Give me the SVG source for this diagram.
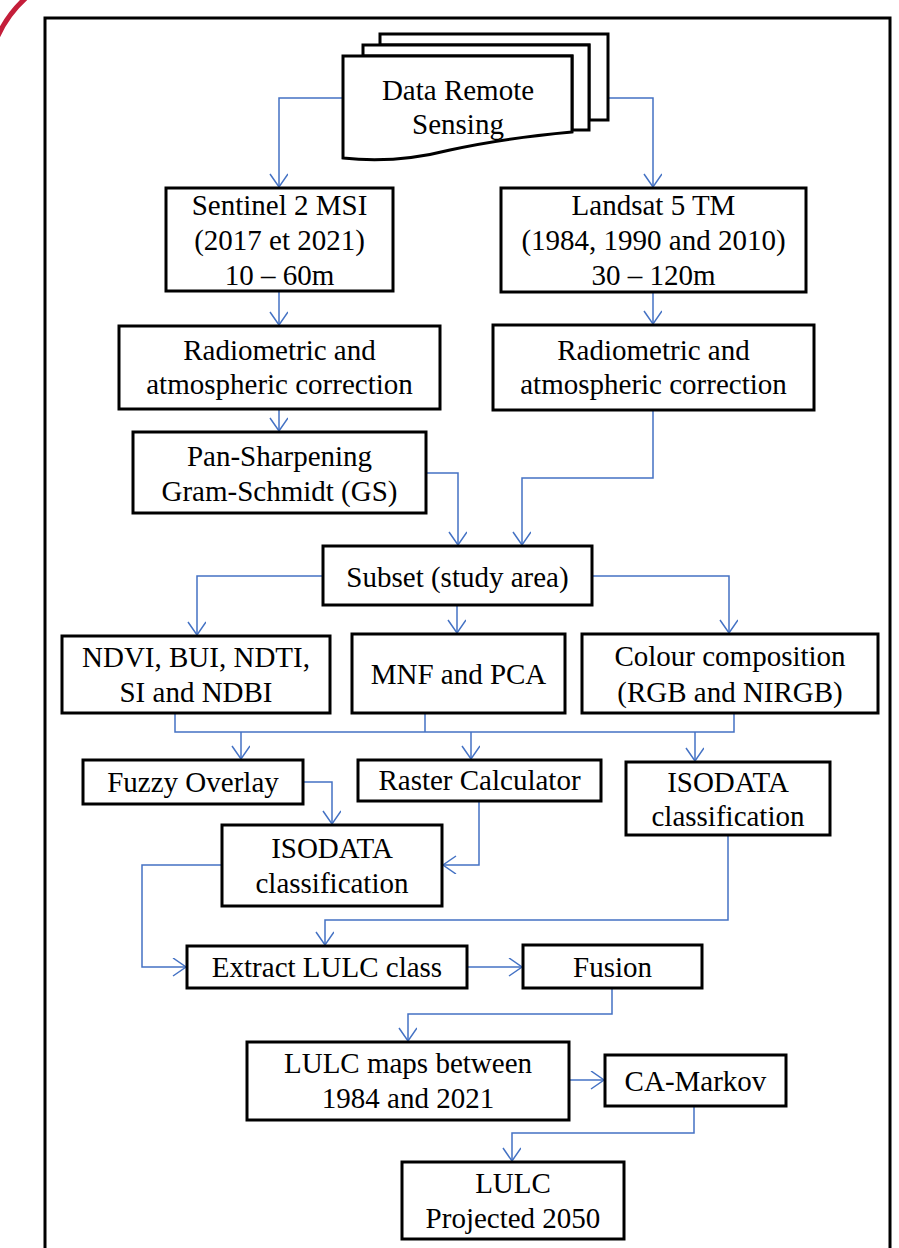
<svg xmlns="http://www.w3.org/2000/svg" width="899" height="1248" viewBox="0 0 899 1248">
<style>
.box{fill:#fff;stroke:#000;stroke-width:3}
.t{font-family:"Liberation Serif","Times New Roman",serif;font-size:29px;fill:#000;text-anchor:middle}
.c{fill:none;stroke:#4472C4;stroke-width:1.5}
</style>
<defs>
<marker id="arr" markerUnits="userSpaceOnUse" markerWidth="16" markerHeight="20" viewBox="0 0 16 20" refX="14" refY="9" orient="auto">
<path d="M1,0 L14,9 L1,18" fill="none" stroke="#4472C4" stroke-width="1.5"/>
</marker>
</defs>
<rect width="899" height="1248" fill="#fff"/>
<path d="M-4,40 Q7,14 28,-4" fill="none" stroke="#c41e3a" stroke-width="5"/>
<rect x="45" y="18" width="845" height="1240" fill="none" stroke="#000" stroke-width="3"/>

<g id="connectors">
<path class="c" d="M343,98 H279 V187" marker-end="url(#arr)"/>
<path class="c" d="M608,98 H653 V187" marker-end="url(#arr)"/>
<path class="c" d="M279,291 V325" marker-end="url(#arr)"/>
<path class="c" d="M653,292 V324" marker-end="url(#arr)"/>
<path class="c" d="M279,409 V431" marker-end="url(#arr)"/>
<path class="c" d="M426,473 H458 V545" marker-end="url(#arr)"/>
<path class="c" d="M653,410 V478 H522 V545" marker-end="url(#arr)"/>
<path class="c" d="M323,576 H197 V635" marker-end="url(#arr)"/>
<path class="c" d="M457,605 V633" marker-end="url(#arr)"/>
<path class="c" d="M592,576 H729 V633" marker-end="url(#arr)"/>
<path class="c" d="M175,713 V732 H734 V713 M425,713 V732"/>
<path class="c" d="M241,732 V759" marker-end="url(#arr)"/>
<path class="c" d="M471,732 V759" marker-end="url(#arr)"/>
<path class="c" d="M695,732 V761" marker-end="url(#arr)"/>
<path class="c" d="M303,782 H332 V824" marker-end="url(#arr)"/>
<path class="c" d="M479,801 V865 H443" marker-end="url(#arr)"/>
<path class="c" d="M222,865 H142 V967 H186" marker-end="url(#arr)"/>
<path class="c" d="M728,835 V920 H325 V945" marker-end="url(#arr)"/>
<path class="c" d="M467,967 H522" marker-end="url(#arr)"/>
<path class="c" d="M612,988 V1014 H408 V1041" marker-end="url(#arr)"/>
<path class="c" d="M569,1080 H604" marker-end="url(#arr)"/>
<path class="c" d="M694,1106 V1133 H512 V1161" marker-end="url(#arr)"/>
</g>

<g id="n-data">
<path class="box" d="M380,34 H608 V120 H589 V45 H380 Z"/>
<path class="box" d="M363,45 H589 V130 H572 V56 H363 Z"/>
<path class="box" d="M343,56 H572 V132 Q505,138 450,150 Q395,164 343,158 Z"/>
<text class="t" x="458" y="100">Data Remote</text>
<text class="t" x="458" y="134">Sensing</text>
</g>

<g id="n-sentinel">
<rect class="box" x="166" y="188" width="227" height="103"/>
<text class="t" x="279.5" y="215">Sentinel 2 MSI</text>
<text class="t" x="279.5" y="250">(2017 et 2021)</text>
<text class="t" x="279.5" y="285">10 – 60m</text>
</g>

<g id="n-landsat">
<rect class="box" x="501" y="188" width="305" height="104"/>
<text class="t" x="653.5" y="215">Landsat 5 TM</text>
<text class="t" x="653.5" y="250">(1984, 1990 and 2010)</text>
<text class="t" x="653.5" y="285">30 – 120m</text>
</g>

<g id="n-radio-left">
<rect class="box" x="119" y="326" width="321" height="83"/>
<text class="t" x="279.5" y="360">Radiometric and</text>
<text class="t" x="279.5" y="394">atmospheric correction</text>
</g>

<g id="n-radio-right">
<rect class="box" x="493" y="325" width="321" height="85"/>
<text class="t" x="653.5" y="360">Radiometric and</text>
<text class="t" x="653.5" y="394">atmospheric correction</text>
</g>

<g id="n-pansharp">
<rect class="box" x="133" y="432" width="293" height="81"/>
<text class="t" x="279.5" y="466">Pan-Sharpening</text>
<text class="t" x="279.5" y="501">Gram-Schmidt (GS)</text>
</g>

<g id="n-subset">
<rect class="box" x="323" y="546" width="269" height="59"/>
<text class="t" x="457.5" y="587">Subset (study area)</text>
</g>

<g id="n-ndvi">
<rect class="box" x="62" y="636" width="268" height="77"/>
<text class="t" x="196" y="667">NDVI, BUI, NDTI,</text>
<text class="t" x="196" y="702">SI and NDBI</text>
</g>

<g id="n-mnf">
<rect class="box" x="352" y="634" width="213" height="79"/>
<text class="t" x="458.5" y="684">MNF and PCA</text>
</g>

<g id="n-colour">
<rect class="box" x="582" y="634" width="296" height="79"/>
<text class="t" x="730" y="666">Colour composition</text>
<text class="t" x="730" y="702">(RGB and NIRGB)</text>
</g>

<g id="n-fuzzy">
<rect class="box" x="83" y="760" width="220" height="44"/>
<text class="t" x="193" y="792">Fuzzy Overlay</text>
</g>

<g id="n-raster">
<rect class="box" x="358" y="760" width="243" height="41"/>
<text class="t" x="479.5" y="790">Raster Calculator</text>
</g>

<g id="n-isodata-right">
<rect class="box" x="626" y="762" width="204" height="73"/>
<text class="t" x="728" y="792">ISODATA</text>
<text class="t" x="728" y="826">classification</text>
</g>

<g id="n-isodata-mid">
<rect class="box" x="222" y="825" width="220" height="81"/>
<text class="t" x="332" y="858">ISODATA</text>
<text class="t" x="332" y="893">classification</text>
</g>

<g id="n-extract">
<rect class="box" x="187" y="946" width="280" height="42"/>
<text class="t" x="327" y="977">Extract LULC class</text>
</g>

<g id="n-fusion">
<rect class="box" x="523" y="945" width="179" height="43"/>
<text class="t" x="612.5" y="977">Fusion</text>
</g>

<g id="n-lulc-maps">
<rect class="box" x="247" y="1042" width="322" height="78"/>
<text class="t" x="408" y="1073">LULC maps between</text>
<text class="t" x="408" y="1108">1984 and 2021</text>
</g>

<g id="n-camarkov">
<rect class="box" x="605" y="1055" width="181" height="51"/>
<text class="t" x="695.5" y="1091">CA-Markov</text>
</g>

<g id="n-lulc-proj">
<rect class="box" x="402" y="1162" width="222" height="77"/>
<text class="t" x="513" y="1193">LULC</text>
<text class="t" x="513" y="1228">Projected 2050</text>
</g>
</svg>
